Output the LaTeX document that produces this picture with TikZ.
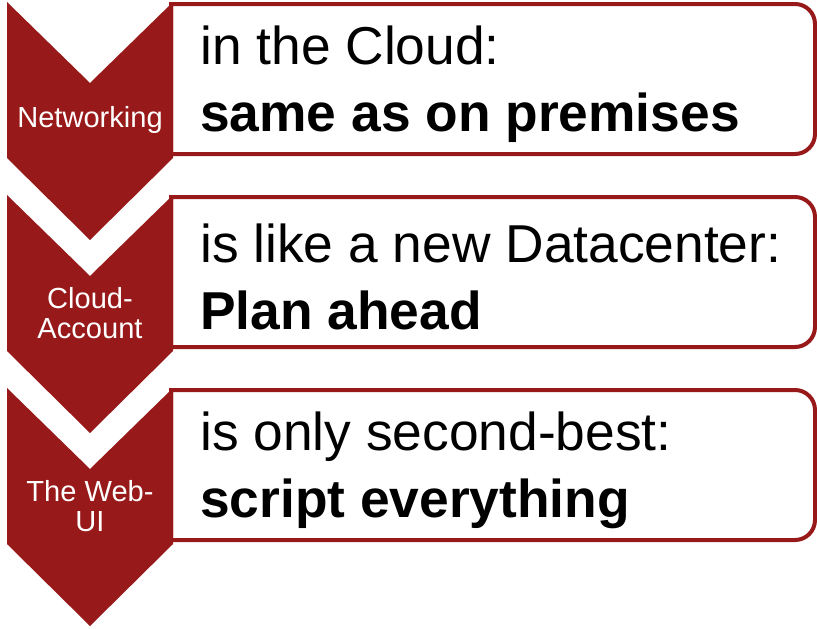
\documentclass[tikz,border=0pt]{standalone}
\usepackage{fontspec}
\setmainfont{Liberation Sans}

\definecolor{chevred}{RGB}{152,25,25}

\tikzset{
  chevron/.style={fill=chevred, draw=none},
  listbox/.style={draw=chevred, line width=3pt, fill=white},
  chevlabel/.style={text=white, align=center, inner sep=0pt,
    font=\fontsize{21.8}{22.5}\selectfont},
  boxtext/.style={anchor=west, align=left, inner sep=0pt,
    font=\fontsize{40}{50}\selectfont}
}

\begin{document}
\begin{tikzpicture}[x=0.75pt,y=-0.75pt]

  \useasboundingbox (0,0) rectangle (817,628);

%%%%%%%%%%%%%%%%%%%%%%%%%%%%%%%%%%%%%%%%%%
  % First row
  \begin{scope}
    % Box
    \draw[listbox] (171,154) -- (171,4) -- (500,4) [rounded corners=15pt]
      -- (815,4) -- (815,154) -- (500,154) [sharp corners] -- cycle;
    % Chevron
    \fill[chevron] (7,2) -- (90,83) -- (173,2) -- (173,158) -- (90,240)
      -- (7,158) -- cycle;
    \node[chevlabel] (net) at (90,120) {Networking};
    \node[boxtext] (cloud) at (200,84)
      {in the Cloud:\\\textbf{same as on premises}};
  \end{scope}

%%%%%%%%%%%%%%%%%%%%%%%%%%%%%%%%%%%%%%%%%%
  % Second row
  \begin{scope}[shift={(0,193)}]
    % Box
    \draw[listbox] (171,154) -- (171,4) -- (500,4) [rounded corners=15pt]
      -- (815,4) -- (815,154) -- (500,154) [sharp corners] -- cycle;
    % Chevron
    \fill[chevron] (7,2) -- (90,83) -- (173,2) -- (173,158) -- (90,240)
      -- (7,158) -- cycle;
    \node[chevlabel] (acct) at (90,120) {Cloud-\\Account};
    \node[boxtext] (dc) at (200,84)
      {is like a new Datacenter:\\\textbf{Plan ahead}};
  \end{scope}

%%%%%%%%%%%%%%%%%%%%%%%%%%%%%%%%%%%%%%%%%%
  % Third row
  \begin{scope}[shift={(0,386)}]
    % Box
    \draw[listbox] (171,154) -- (171,4) -- (500,4) [rounded corners=15pt]
      -- (815,4) -- (815,154) -- (500,154) [sharp corners] -- cycle;
    % Chevron
    \fill[chevron] (7,2) -- (90,83) -- (173,2) -- (173,158) -- (90,240)
      -- (7,158) -- cycle;
    \node[chevlabel] (webui) at (90,120) {The Web-\\UI};
    \node[boxtext] (script) at (200,84)
      {is only second-best:\\\textbf{script everything}};
  \end{scope}

\end{tikzpicture}
\end{document}
